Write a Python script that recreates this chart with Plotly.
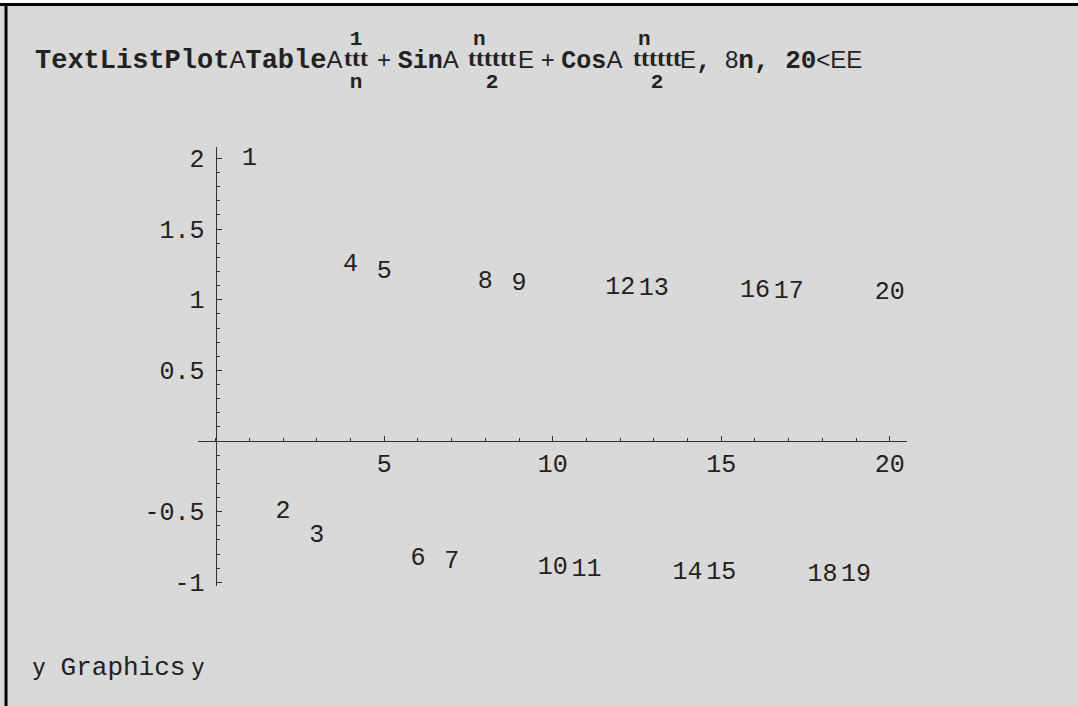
import plotly.graph_objects as go

# Figure size in pixels
W, H = 1078, 706

# Data: n and the value of 1/n + Sin[n Pi/2] + Cos[n Pi/2]
n_values = list(range(1, 21))
y_values = [2.0, -0.5, -0.667, 1.25, 1.2, -0.833, -0.857, 1.125, 1.111, -0.9,
            -0.909, 1.083, 1.077, -0.929, -0.933, 1.0625, 1.059, -0.944, -0.947, 1.05]
point_labels = [str(n) for n in n_values]

x_tick_vals = [5, 10, 15, 20]
x_tick_text = ["5", "10", "15", "20"]
y_tick_vals = [-1, -0.5, 0.5, 1, 1.5, 2]
y_tick_text = ["-1", "-0.5", "0.5", "1", "1.5", "2"]

MONO = "Liberation Mono"
SANS = "Liberation Sans"
SERIF = "Liberation Serif"
INK = "#222222"
BG = "#d9d9d9"

# Plot region (pixels)
PX0, PX1 = 198, 907
PY0, PY1 = 147, 586
X_RANGE = [-0.525, 20.51]
Y_RANGE = [-1.026, 2.081]
ORIGIN_X_PX = 215.7
ORIGIN_Y_PX = 441


def fx(px):
    return px / W


def fy(py):
    return 1 - py / H


fig = go.Figure()

fig.add_trace(go.Scatter(
    x=n_values, y=y_values, text=point_labels, mode="text",
    textposition="middle center",
    textfont=dict(family=MONO, size=25, color=INK),
    hoverinfo="skip", showlegend=False,
))

fig.update_layout(
    width=W, height=H, autosize=False,
    margin=dict(l=0, r=0, t=0, b=0, pad=0, autoexpand=False),
    paper_bgcolor=BG, plot_bgcolor="rgba(0,0,0,0)",
    xaxis=dict(
        domain=[fx(PX0), fx(PX1)], range=X_RANGE, automargin=False,
        anchor="free", position=fy(ORIGIN_Y_PX),
        showline=True, linecolor="#333", linewidth=1.2,
        showgrid=False, zeroline=False,
        tickmode="array", tickvals=x_tick_vals, ticktext=x_tick_text,
        ticks="inside", ticklen=5, tickwidth=1, tickcolor="#333",
        ticklabelstandoff=0,
        tickfont=dict(family=MONO, size=25, color=INK),
        minor=dict(tickmode="linear", tick0=0, dtick=1, ticks="inside",
                   ticklen=3, tickwidth=1, tickcolor="#333"),
    ),
    yaxis=dict(
        domain=[fy(PY1), fy(PY0)], range=Y_RANGE, automargin=False,
        anchor="free", position=fx(ORIGIN_X_PX),
        showline=True, linecolor="#333", linewidth=1.2,
        showgrid=False, zeroline=False,
        tickmode="array", tickvals=y_tick_vals, ticktext=y_tick_text,
        ticks="inside", ticklen=5, tickwidth=1, tickcolor="#333",
        ticklabelstandoff=6,
        tickfont=dict(family=MONO, size=25, color=INK),
        minor=dict(tickmode="linear", tick0=0, dtick=0.1, ticks="inside",
                   ticklen=3, tickwidth=1, tickcolor="#333"),
    ),
)

# Cell frame: white strip and black rules at top and left
fig.add_shape(type="rect", xref="paper", yref="paper", x0=0, x1=1,
              y0=fy(3), y1=1, fillcolor="white", line_width=0, layer="below")
fig.add_shape(type="line", xref="paper", yref="paper", x0=0, x1=1,
              y0=fy(4.5), y1=fy(4.5), line=dict(color="black", width=3))
fig.add_shape(type="line", xref="paper", yref="paper", x0=fx(6), x1=fx(6),
              y0=0, y1=fy(3), line=dict(color="black", width=3))


def span(text, family, size, bold=False):
    weight = "bold" if bold else "normal"
    return (f'<span style="font-family:{family};font-size:{size}px;'
            f'font-weight:{weight}">{text}</span>')


def mb(text, size=26):
    return span(text, MONO, size, True)


def sa(text, size=24):
    return span(text, SANS, size)


def tt(text):
    return span(text, SERIF, 24, True)


def put(x, y, text, xanchor="left", size=24):
    fig.add_annotation(
        x=fx(x), y=fy(y), xref="paper", yref="paper", text=text,
        showarrow=False, xanchor=xanchor, yanchor="middle", align="center",
        borderpad=0, borderwidth=0,
        font=dict(family=SANS, size=size, color=INK),
    )


NB = "&nbsp;"
ROW = 61
FR = 16.5  # line pitch of the stacked fractions (x1.3)
FS = 21    # numerator / denominator size

# Input line, split around the stacked fractions
put(35, ROW, mb("TextListPlot", 27) + sa("A") + mb("Table", 27) + sa("A"))
put(356, ROW, mb("1", FS) + "<br>" + tt("ttt") + "<br>" + mb("n", FS),
    xanchor="center", size=FR)
put(377, ROW, sa("+" + NB) + mb("Sin", 25) + sa("A"))
put(492, ROW, mb("n" + NB + NB, FS) + "<br>" + tt("tttttt") + "<br>" + mb("2", FS),
    xanchor="center", size=FR)
put(518, ROW, sa("E" + NB + "+" + NB) + mb("Cos", 25) + sa("A"))
put(657, ROW, mb("n" + NB + NB, FS) + "<br>" + tt("tttttt") + "<br>" + mb("2", FS),
    xanchor="center", size=FR)
put(680, ROW, sa("E") + mb(",") + sa(NB + NB + "8") + mb("n,") + mb(NB + "20")
    + sa("&lt;EE"))

# Output line
put(33, 668, sa("y") + span(NB + "Graphics", MONO, 26) + sa(NB + "y"))

fig.write_html("out.html", config={"responsive": False})
